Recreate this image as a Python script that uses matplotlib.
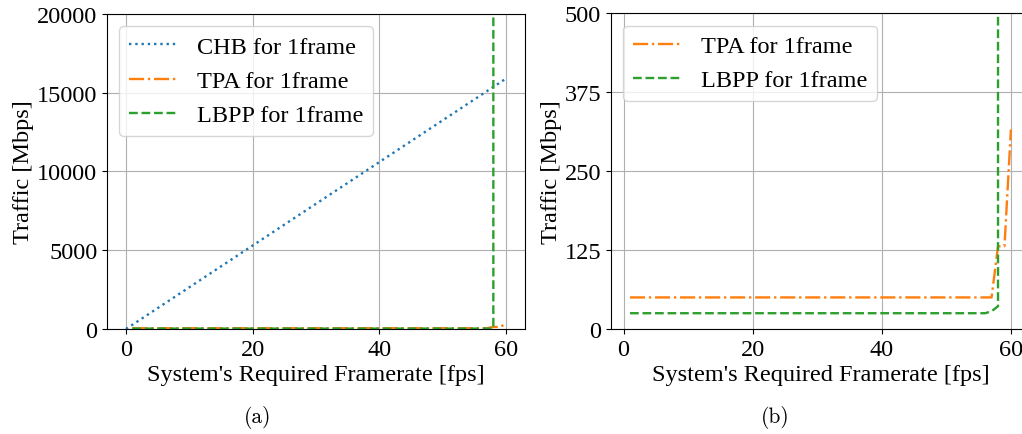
import numpy as np
import matplotlib
matplotlib.use('Agg')
from matplotlib import pyplot as plt

plt.rcParams['font.family'] = ['Liberation Serif', 'DejaVu Serif']
plt.rcParams['font.size'] = 17.5

# CHB grows linearly with the framerate
chb_fps = [0, 60]
chb = [0, 15900]

# TPA: flat, then two steps near the top framerates
tpa_fps = [1, 57, 58, 59, 60]
tpa = [50, 50, 131, 131, 316]

# LBPP: flat, then explodes after 58 fps
lbpp_fps = [1, 56, 57, 58, 59]
lbpp = [25, 25, 28, 36, 1e7]

fig = plt.figure(figsize=(10.22, 4.35), dpi=100)

# (a) all three methods
ax1 = fig.add_axes([0.1047, 0.2414, 0.409, 0.7241])
ax1.plot(chb_fps, chb, ':', color='C0', lw=1.7, label='CHB for 1frame')
ax1.plot(tpa_fps, tpa, '-.', color='C1', lw=1.7, label='TPA for 1frame')
ax1.plot(lbpp_fps, lbpp, '--', color='C2', lw=1.7, label='LBPP for 1frame')
ax1.set_xlim(-3, 63)
ax1.set_ylim(0, 20000)
ax1.set_yticks([0, 5000, 10000, 15000, 20000])
ax1.set_xticks([0, 20, 40, 60])
ax1.set_xlabel("System's Required Framerate [fps]", labelpad=3)
ax1.set_ylabel('Traffic [Mbps]', labelpad=2)
ax1.grid(True)
ax1.legend(loc='upper left')

# (b) zoom on TPA and LBPP
ax2 = fig.add_axes([0.5978, 0.2414, 0.41, 0.7255])
ax2.plot(tpa_fps, tpa, '-.', color='C1', lw=1.7, label='TPA for 1frame')
ax2.plot(lbpp_fps, lbpp, '--', color='C2', lw=1.7, label='LBPP for 1frame')
ax2.set_xlim(-1.95, 62.95)
ax2.set_ylim(0, 500)
ax2.set_yticks([0, 125, 250, 375, 500])
ax2.set_xticks([0, 20, 40, 60])
ax2.set_xlabel("System's Required Framerate [fps]", labelpad=3)
ax2.set_ylabel('Traffic [Mbps]', labelpad=2)
ax2.grid(True)
ax2.legend(loc='upper left')

fig.text(0.2524, 0.04, '(a)', family='cmr10', fontsize=15.5, ha='center', va='center')
fig.text(0.7583, 0.04, '(b)', family='cmr10', fontsize=15.5, ha='center', va='center')

fig.savefig('out.png', dpi=100)
